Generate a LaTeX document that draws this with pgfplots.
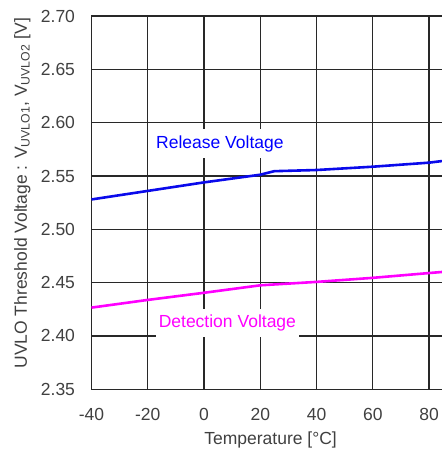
\documentclass[border=0pt]{standalone}
\usepackage{fontspec}
\setmainfont{Liberation Sans}
\usepackage{pgfplots}
\pgfplotsset{compat=1.18}
\definecolor{gridc}{RGB}{40,40,40}
\definecolor{txtc}{RGB}{64,64,64}
\definecolor{relc}{RGB}{10,10,235}
\definecolor{detc}{RGB}{255,0,255}
\begin{document}
\begin{tikzpicture}
\useasboundingbox (-91.5bp,-64.7bp) rectangle (350.5bp,373.3bp+16bp);
\begin{axis}[
  scale only axis,
  width=350.5bp, height=373.3bp,
  xmin=-40, xmax=84.6,
  ymin=2.35, ymax=2.70,
  xtick={-40,-20,0,20,40,60,80},
  ytick={2.35,2.40,2.45,2.50,2.55,2.60,2.65,2.70},
  yticklabel style={/pgf/number format/fixed, /pgf/number format/fixed zerofill, /pgf/number format/precision=2, xshift=-13bp},
  /pgf/number format/assume math mode=true,
  grid=major,
  major grid style={gridc, line width=1.3bp},
  axis line style={draw=none},
  major tick length=0pt,
  tick label style={font=\fontsize{17.5bp}{21bp}\selectfont, text=txtc},
  xticklabel style={yshift=-15bp},
  label style={font=\fontsize{17.5bp}{21bp}\selectfont, text=txtc},
  xlabel={Temperature [°C]},
  xlabel style={at={(axis description cs:0.511,0)}, anchor=center, yshift=-51bp},
  ylabel={UVLO Threshold Voltage : V\textsubscript{UVLO1}, V\textsubscript{UVLO2} [V]},
  ylabel style={at={(axis description cs:-0.197,0.525)}, anchor=center},
  clip=true,
]
\addplot[relc, line width=2.6bp] coordinates {
  (-40,2.528) (-20,2.536) (0,2.544) (20,2.5512) (25,2.5545) (40,2.5556) (60,2.5587) (80,2.5625) (84.6,2.564)
};
\addplot[detc, line width=2.6bp] coordinates {
  (-40,2.4266) (-20,2.4338) (0,2.4405) (20,2.4475) (40,2.4507) (60,2.4545) (80,2.459) (84.6,2.460)
};
\node[anchor=base, fill=white, inner xsep=3bp, inner ysep=6bp, text=blue, font=\fontsize{17.5bp}{21bp}\selectfont] at (axis cs:5.65,2.5761) {Release Voltage};
\node[anchor=base, fill=white, inner xsep=3bp, inner ysep=6bp, text=detc, font=\fontsize{17.5bp}{21bp}\selectfont] at (axis cs:8.3,2.4082) {Detection Voltage};
\end{axis}
\end{tikzpicture}
\end{document}
